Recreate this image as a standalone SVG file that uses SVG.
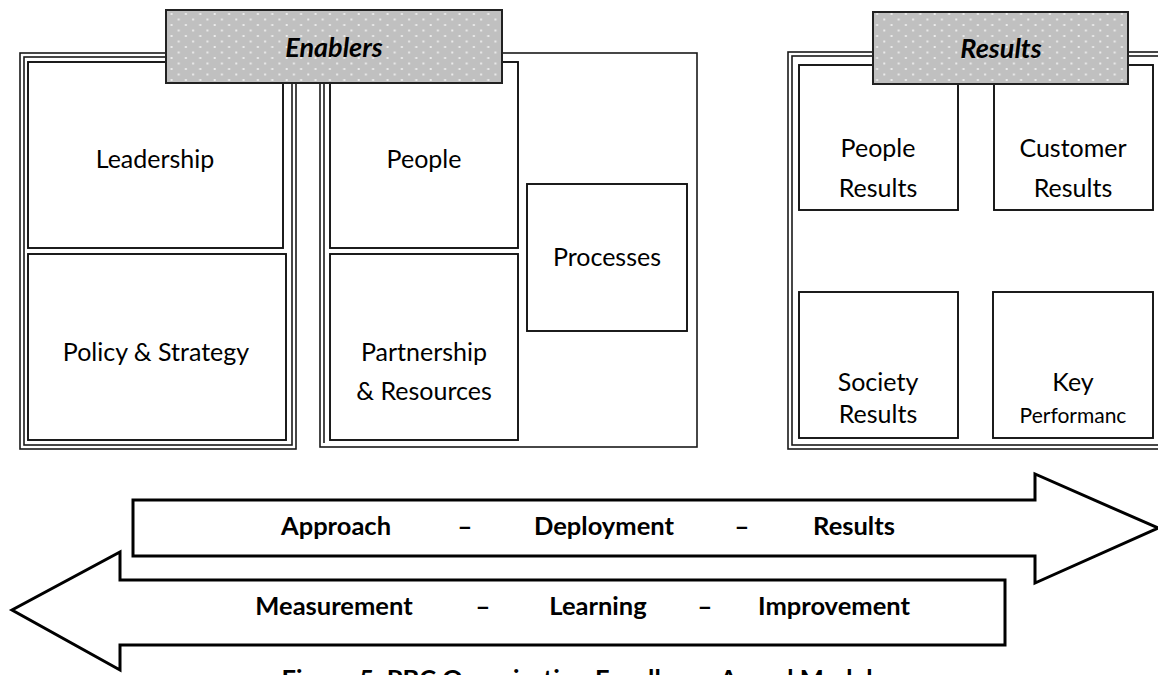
<svg xmlns="http://www.w3.org/2000/svg" width="1158" height="675" viewBox="0 0 1158 675">
  <defs>
    <!-- stippled grey fill for the two header tabs -->
    <pattern id="dots" patternUnits="userSpaceOnUse" x="166" y="10" width="14.4" height="11">
      <rect width="14.4" height="11" fill="#c0c0c0"/>
      <rect x="4.5" y="3" width="2" height="2" fill="#ebebeb"/>
      <rect x="11.7" y="8.5" width="2" height="2" fill="#ebebeb"/>
    </pattern>
    <style>
      .panel { fill: none; stroke: #1a1a1a; stroke-width: 1.6; }
      .box { fill: #fff; stroke: #111; stroke-width: 1.9; }
      .hdr { fill: url(#dots); stroke: #222; stroke-width: 2; }
      .lbl { font-family: Lato, "Liberation Sans", sans-serif; font-size: 25px; fill: #000; text-anchor: middle; }
      .small { font-size: 21px; }
      .hdrtxt { font-weight: bold; font-style: italic; font-size: 27px; }
      .arrow { fill: #fff; stroke: #000; stroke-width: 3; stroke-linejoin: miter; }
      .atxt { font-weight: bold; font-size: 25.5px; }
    </style>
  </defs>

  <!-- Enablers: left double-ruled panel -->
  <g id="panel-left">
    <rect class="panel" x="20" y="53" width="276" height="396"/>
    <rect class="panel" x="24" y="57" width="268" height="388"/>
  </g>
  <!-- Enablers: middle panel, double rule on its left side -->
  <g id="panel-middle">
    <rect class="panel" x="320" y="53" width="377" height="394"/>
    <line class="panel" x1="324" y1="57" x2="324" y2="443"/>
  </g>
  <!-- Results panel, runs off the right edge -->
  <g id="panel-results">
    <rect class="panel" x="788" y="52" width="400" height="397"/>
    <rect class="panel" x="792" y="56" width="392" height="389"/>
  </g>

  <g id="leadership">
    <rect class="box" x="28" y="62" width="255" height="186"/>
    <text class="lbl" x="155" y="168">Leadership</text>
  </g>
  <g id="policy-strategy">
    <rect class="box" x="28" y="254" width="258" height="186"/>
    <text class="lbl" x="156" y="361">Policy &amp; Strategy</text>
  </g>
  <g id="people">
    <rect class="box" x="330" y="62" width="188" height="186"/>
    <text class="lbl" x="424" y="168">People</text>
  </g>
  <g id="partnership-resources">
    <rect class="box" x="330" y="254" width="188" height="186"/>
    <text class="lbl" x="424" y="361">Partnership</text>
    <text class="lbl" x="424" y="400">&amp; Resources</text>
  </g>
  <g id="processes">
    <rect class="box" x="527" y="184" width="160" height="147"/>
    <text class="lbl" x="607" y="266">Processes</text>
  </g>

  <g id="people-results">
    <rect class="box" x="799" y="65" width="159" height="145"/>
    <text class="lbl" x="878" y="157">People</text>
    <text class="lbl" x="878" y="197">Results</text>
  </g>
  <g id="customer-results">
    <rect class="box" x="994" y="65" width="159" height="145"/>
    <text class="lbl" x="1073" y="157">Customer</text>
    <text class="lbl" x="1073" y="197">Results</text>
  </g>
  <g id="society-results">
    <rect class="box" x="799" y="292" width="159" height="146"/>
    <text class="lbl" x="878" y="391">Society</text>
    <text class="lbl" x="878" y="423">Results</text>
  </g>
  <g id="key-performance">
    <rect class="box" x="993" y="292" width="160" height="146"/>
    <text class="lbl" x="1073" y="391">Key</text>
    <text class="lbl small" x="1073" y="423">Performanc</text>
  </g>

  <!-- header tabs sit over the panel tops -->
  <g id="enablers-header">
    <rect class="hdr" x="166" y="10" width="336" height="73"/>
    <text class="lbl hdrtxt" x="334" y="57">Enablers</text>
  </g>
  <g id="results-header">
    <rect class="hdr" x="873" y="12" width="255" height="72"/>
    <text class="lbl hdrtxt" x="1001" y="58">Results</text>
  </g>

  <!-- block arrows -->
  <g id="connectors">
    <path class="arrow" d="M133,500 H1035 V474 L1158,528 L1035,583 V556 H133 Z"/>
    <path class="arrow" d="M1005,580 H120 V552 L12,610 L120,670 V645 H1005 Z"/>
  </g>

  <g id="adr-labels">
    <text class="lbl atxt" x="336" y="535">Approach</text>
    <text class="lbl atxt" x="465" y="535">–</text>
    <text class="lbl atxt" x="604" y="535">Deployment</text>
    <text class="lbl atxt" x="742" y="535">–</text>
    <text class="lbl atxt" x="854" y="535">Results</text>
  </g>
  <g id="mli-labels">
    <text class="lbl atxt" x="334" y="615">Measurement</text>
    <text class="lbl atxt" x="483" y="615">–</text>
    <text class="lbl atxt" x="598" y="615">Learning</text>
    <text class="lbl atxt" x="705" y="615">–</text>
    <text class="lbl atxt" x="834" y="615">Improvement</text>
  </g>

  <!-- caption, falls past the lower edge of the page -->
  <text class="lbl atxt" x="577" y="688">Figure 5: PBC Organisation Excellence Award Model</text>
</svg>
